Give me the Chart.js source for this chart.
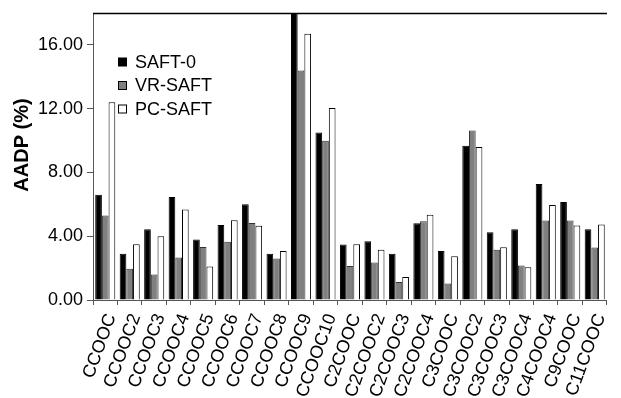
<!doctype html>
<html lang="en">
<head>
  <meta charset="utf-8" />
  <title>AADP</title>
  <style>
    body { margin: 0; background: #fff; }
    #box { width: 621px; height: 398px; }
  </style>
</head>
<body>
  <div id="box"><canvas id="lienzo" width="621" height="398"></canvas></div>
  <script src="https://cdn.jsdelivr.net/npm/chart.js"></script>
  <script>
    const categorias = ['CCOOC','CCOOC2','CCOOC3','CCOOC4','CCOOC5','CCOOC6','CCOOC7','CCOOC8','CCOOC9','CCOOC10',
      'C2COOC','C2COOC2','C2COOC3','C2COOC4','C3COOC','C3COOC2','C3COOC3','C3COOC4','C4COOC4','C9COOC','C11COOC'];
    const saft0 = [6.6, 2.9, 4.44, 6.46, 3.8, 4.7, 6.0, 2.9, 18.0, 10.5, 3.48, 3.69, 2.9, 4.81, 3.08, 9.67, 4.25, 4.44, 7.27, 6.15, 4.44];
    const vrSaft = [5.3, 1.96, 1.6, 2.67, 3.33, 3.65, 4.83, 2.6, 14.4, 9.98, 2.13, 2.35, 1.13, 4.94, 1.04, 10.63, 3.15, 2.17, 4.98, 4.98, 3.29];
    const pcSaft = [12.4, 3.5, 4.0, 5.67, 2.1, 5.0, 4.65, 3.08, 16.7, 12.04, 3.5, 3.15, 1.44, 5.35, 2.75, 9.6, 3.31, 2.06, 5.96, 4.67, 4.73];
    const yTicks = [0, 4, 8, 12, 16];
    const tituloY = 'AADP (%)';

    const fuente = '"Liberation Sans", Arial, sans-serif';

    // leyenda dentro del area, borde superior y titulo del eje y
    const leyenda = {
      id: 'leyenda',
      afterDraw(chart) {
        const ctx = chart.ctx;
        const a = chart.chartArea;
        ctx.save();
        ctx.strokeStyle = '#000';
        ctx.lineWidth = 1.5;
        ctx.beginPath();
        ctx.moveTo(a.left, a.top + 0.5);
        ctx.lineTo(a.right, a.top + 0.5);
        ctx.stroke();

        ctx.font = '18px ' + fuente;
        ctx.textBaseline = 'middle';
        chart.data.datasets.forEach((ds, i) => {
          const y = 62 + i * 23.5;
          ctx.fillStyle = ds.backgroundColor;
          ctx.fillRect(118.5, y - 4, 8, 8);
          ctx.strokeStyle = '#000';
          ctx.lineWidth = 1;
          ctx.strokeRect(118.5, y - 4, 8, 8);
          ctx.fillStyle = '#000';
          ctx.fillText(ds.label, 135, y + 1);
        });

        ctx.translate(22, 145);
        ctx.rotate(-Math.PI / 2);
        ctx.font = 'bold 20px ' + fuente;
        ctx.textAlign = 'center';
        ctx.fillText(tituloY, 0, 0);
        ctx.restore();
      }
    };

    new Chart(document.querySelector('#lienzo'), {
      type: 'bar',
      data: {
        labels: categorias,
        datasets: [
          { label: 'SAFT-0', data: saft0, backgroundColor: '#000000', borderColor: '#000000', borderWidth: 1 },
          { label: 'VR-SAFT', data: vrSaft, backgroundColor: '#808080', borderColor: '#333333', borderWidth: 1 },
          { label: 'PC-SAFT', data: pcSaft, backgroundColor: '#ffffff', borderColor: '#000000', borderWidth: 1 }
        ]
      },
      options: {
        responsive: false,
        animation: false,
        layout: { padding: { top: 12, left: 0, right: 0, bottom: 0 } },
        datasets: { bar: { categoryPercentage: 0.82, barPercentage: 1.0 } },
        plugins: { legend: { display: false }, tooltip: { enabled: false } },
        scales: {
          x: {
            grid: { drawOnChartArea: false, tickLength: 5, color: '#555', offset: true },
            border: { color: '#555', width: 1 },
            ticks: {
              autoSkip: false, minRotation: 70, maxRotation: 70, padding: 6, labelOffset: 6,
              color: '#000', font: { family: fuente, size: 18 }
            },
            afterFit(axis) { axis.height = 98; }
          },
          y: {
            min: 0, max: 18,
            afterBuildTicks(axis) { axis.ticks = yTicks.map(v => ({ value: v })); },
            grid: { drawOnChartArea: false, tickLength: 6, color: '#555' },
            border: { color: '#555', width: 1 },
            ticks: {
              padding: 4, color: '#000', font: { family: fuente, size: 18, lineHeight: 1 },
              callback: v => Number(v).toFixed(2)
            },
            afterFit(axis) { axis.width = 93; }
          }
        }
      },
      plugins: [leyenda]
    });
  </script>
</body>
</html>
